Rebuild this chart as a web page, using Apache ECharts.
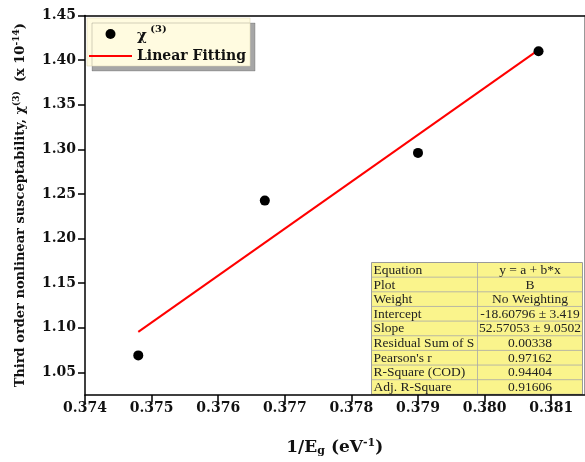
<!DOCTYPE html>
<html><head><meta charset="utf-8">
<script src="https://cdn.jsdelivr.net/npm/echarts@6/dist/echarts.min.js"></script>
<style>html,body{margin:0;padding:0;background:#fff}#c{width:585px;height:462px}</style>
</head><body><div id="c"></div>
<script>
const xValues = [0.3748, 0.3767, 0.3790, 0.38081];
const yValues = [1.069, 1.2425, 1.296, 1.410];
const fitX = [0.3748, 0.38081];
const fitY = [1.0954, 1.4114];
const yTicks = [1.05, 1.10, 1.15, 1.20, 1.25, 1.30, 1.35, 1.40, 1.45];
const tableLabels = ['Equation','Plot','Weight','Intercept','Slope','Residual Sum of S',"Pearson's r",'R-Square (COD)','Adj. R-Square'];
const tableValues = ['y = a + b*x','B','No Weighting','-18.60796 \u00b1 3.419','52.57053 \u00b1 9.0502','0.00338','0.97162','0.94404','0.91606'];

const F = 'DejaVu Serif';
const chart = echarts.init(document.getElementById('c'), null, {renderer:'canvas'});

const tX = 371.5, tY = 262.5, tW = 211, rowH = 14.65, colX = 477.5;
const tEls = [];
tEls.push({type:'rect', shape:{x:tX, y:tY, width:tW, height:rowH*tableLabels.length}, style:{fill:'#FAF48C', stroke:'#9a9a9a', lineWidth:1}});
for (let i=1;i<tableLabels.length;i++){
  tEls.push({type:'line', shape:{x1:tX, y1:tY+i*rowH, x2:tX+tW, y2:tY+i*rowH}, style:{stroke:'#a8a8a8', lineWidth:0.8}});
}
tEls.push({type:'line', shape:{x1:colX, y1:tY, x2:colX, y2:tY+rowH*tableLabels.length}, style:{stroke:'#a8a8a8', lineWidth:0.8}});
tableLabels.forEach((t,i)=>{
  tEls.push({type:'text', x:tX+2, y:tY+i*rowH+rowH/2+0.5, style:{text:t, font:'13.5px "Liberation Serif"', fill:'#222', verticalAlign:'middle', align:'left'}});
  tEls.push({type:'text', x:(colX+tX+tW)/2, y:tY+i*rowH+rowH/2+0.5, style:{text:tableValues[i], font:'13.5px "Liberation Serif"', fill:'#222', verticalAlign:'middle', align:'center'}});
});

const option = {
  animation:false,
  backgroundColor:'#fff',
  grid:{left:85, top:15.5, right:0.5, bottom:65.5, containLabel:false},
  legend:{
    left:87, top:18, orient:'vertical', padding:[6,4,3,2], itemGap:5,
    itemWidth:43, itemHeight:10, symbolKeepAspect:true,
    backgroundColor:'#FFFBE0', borderColor:'#d8d2b0', borderWidth:0.5,
    shadowColor:'rgba(0,0,0,0.35)', shadowOffsetX:5, shadowOffsetY:5, shadowBlur:0,
    data:[{name:'chi', icon:'circle'},{name:'Linear Fitting', icon:'path://M0,0H43V2H0Z'}],
    formatter:function(n){ return n==='chi' ? '{g|\u03c7}{sup| (3)}' : '{b|Linear Fitting}'; },
    textStyle:{rich:{
      g:{fontFamily:F, fontWeight:'bold', fontSize:15, color:'#111', padding:[5,0,0,0]},
      sup:{fontFamily:F, fontWeight:'bold', fontSize:10, color:'#111', verticalAlign:'top', padding:[0,0,6,0]},
      b:{fontFamily:F, fontWeight:'bold', fontSize:14, color:'#111'}
    }}
  },
  xAxis:[{
    type:'value', min:0.374, max:0.3815, interval:0.001,
    axisLine:{show:true, onZero:false, lineStyle:{color:'#000', width:1.5}},
    axisTick:{show:true, inside:false, length:7, lineStyle:{color:'#000', width:1.5}},
    splitLine:{show:false},
    axisLabel:{formatter:v=>v.toFixed(3), fontFamily:F, fontWeight:'bold', fontSize:14, color:'#111', margin:6, showMaxLabel:false},
    name:'{b|1/E}{sub|g}{b| (eV}{sup|-1}{b|)}', nameLocation:'middle', nameGap:43,
    nameTextStyle:{rich:{
      b:{fontFamily:F, fontWeight:'bold', fontSize:17, color:'#111'},
      sub:{fontFamily:F, fontWeight:'bold', fontSize:11, color:'#111', verticalAlign:'bottom', padding:[8,0,0,0]},
      sup:{fontFamily:F, fontWeight:'bold', fontSize:11, color:'#111', verticalAlign:'top', padding:[0,0,8,0]}
    }}
  },{
    type:'value', position:'top', min:0.374, max:0.3815,
    axisLine:{show:true, onZero:false, lineStyle:{color:'#000', width:1.5}},
    axisTick:{show:false}, axisLabel:{show:false}, splitLine:{show:false}
  }],
  yAxis:[{
    type:'value', min:1.0246, max:1.45,
    axisLine:{show:true, onZero:false, lineStyle:{color:'#000', width:1.5}},
    axisTick:{show:true, length:7, customValues:yTicks, lineStyle:{color:'#000', width:1.5}},
    splitLine:{show:false},
    axisLabel:{customValues:yTicks, formatter:v=>v.toFixed(2), fontFamily:F, fontWeight:'bold', fontSize:14, color:'#111', margin:9},
    name:'{b|Third order nonlinear susceptability, \u03c7}{sup|(3)}{b|  (x 10}{sup|-14}{b|)}', nameLocation:'middle', nameGap:56,
    nameTextStyle:{rich:{
      b:{fontFamily:F, fontWeight:'bold', fontSize:13, color:'#111'},
      sup:{fontFamily:F, fontWeight:'bold', fontSize:9, color:'#111', verticalAlign:'top', padding:[0,0,8,0]}
    }}
  },{
    type:'value', position:'right', min:1.0246, max:1.45,
    axisLine:{show:true, onZero:false, lineStyle:{color:'#999', width:1}},
    axisTick:{show:false}, axisLabel:{show:false}, splitLine:{show:false}
  }],
  series:[
    {name:'Linear Fitting', type:'line', data:fitX.map((x,i)=>[x,fitY[i]]), showSymbol:false, symbol:'none',
     lineStyle:{color:'#FF0000', width:2}, itemStyle:{color:'#FF0000'}, z:2},
    {name:'chi', type:'scatter', data:xValues.map((x,i)=>[x,yValues[i]]), symbol:'circle', symbolSize:10,
     itemStyle:{color:'#000', opacity:1}, z:3}
  ],
  graphic:[{type:'group', z:100, children:tEls}]
};
chart.setOption(option);
</script></body></html>
